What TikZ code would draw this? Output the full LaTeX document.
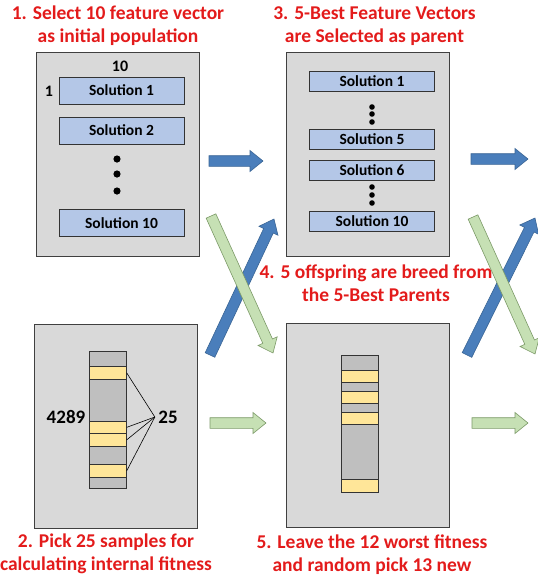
\documentclass[tikz,border=0pt]{standalone}
\usepackage{fontspec}
\setmainfont{Carlito}
\usetikzlibrary{calc}
\definecolor{boxgray}{HTML}{D9D9D9}
\definecolor{solblue}{HTML}{B4C7E7}
\definecolor{bargray}{HTML}{BFBFBF}
\definecolor{bandyellow}{HTML}{FFE699}
\definecolor{stepred}{HTML}{E31B1B}
\definecolor{flowblue}{HTML}{4A7EBB}
\definecolor{flowblueedge}{HTML}{3A6595}
\definecolor{flowgreen}{HTML}{C6E0B4}
\definecolor{flowgreenedge}{HTML}{7C9A68}
\begin{document}
\begin{tikzpicture}[x=1pt,y=-1pt,
	panel/.style={draw=black!75,fill=boxgray,minimum width=163pt,minimum height=204pt,inner sep=0pt,line width=0.9pt},
	solution/.style={draw=black!80,fill=solblue,minimum width=125pt,inner sep=0pt,font=\fontsize{15.5}{18}\selectfont\bfseries,line width=0.7pt},
	steptitle/.style={text=stepred,font=\fontsize{19.5}{23}\selectfont\bfseries,align=center},
	count/.style={font=\fontsize{16}{19}\selectfont\bfseries},
	bar/.style={draw=black!80,fill=bargray,line width=0.7pt,minimum width=37pt,inner sep=0pt,anchor=north west},
	band/.style={draw=black!80,fill=bandyellow,line width=0.7pt,minimum width=37pt,inner sep=0pt,anchor=north west},
	blockarrow/.style={draw=#1edge,fill=#1,line width=0.6pt,to path={let \p1=(\tikztostart),\p2=(\tikztotarget),\n1={atan2(\y2-\y1,\x2-\x1)},\n2={veclen(\x2-\x1,\y2-\y1)} in [shift={(\p1)},rotate=\n1] (0,5.3) -- (\n2-13,5.3) -- (\n2-13,10.5) -- (\n2,0) -- (\n2-13,-10.5) -- (\n2-13,-5.3) -- (0,-5.3) -- cycle}}]
	\useasboundingbox (0,0) rectangle (538,582);
	% panels
	\node[panel] (pop) at (117.5,154) {};
	\node[panel] (par) at (367.5,154) {};
	\node[panel] (smp) at (115.5,426) {};
	\node[panel] (off) at (367.5,425.5) {};
	% initial population
	\node[count] (popsize) at (120,66) {10};
	\node[count] (popidx) at (49,91) {1};
	\node[solution,minimum height=27pt] (pop1) at (121.5,90.5) {Solution 1};
	\node[solution,minimum height=27pt] (pop2) at (121.5,130.5) {Solution 2};
	\node[solution,minimum height=27pt] (pop10) at (121.5,223) {Solution 10};
	\foreach \y in {159,174,191}
		\fill (117,\y) circle (3.6);
	% parents
	\node[solution,minimum height=20pt] (par1) at (372,81) {Solution 1};
	\node[solution,minimum height=20pt] (par5) at (372,139) {Solution 5};
	\node[solution,minimum height=20pt] (par6) at (372,170) {Solution 6};
	\node[solution,minimum height=20pt] (par10) at (372,221.5) {Solution 10};
	\foreach \y in {107,114,122,187,195,203}
		\fill (372,\y) circle (2.8);
	% samples
	\node[bar,minimum height=137pt] (smpbar) at (89,351) {};
	\foreach \t/\b [count=\i] in {366/379,421/433,433/446,464/477}
		\node[band,minimum height=\b-\t] (smpband\i) at (89,\t) {};
	\node[font=\fontsize{19}{23}\selectfont\bfseries] (total) at (66,417) {4289};
	\node[font=\fontsize{19}{23}\selectfont\bfseries] (pick) at (168,417) {25};
	\foreach \i in {1,...,4}
		\draw[line width=0.6pt] (smpband\i.east) -- (pick.west);
	% offspring
	\node[bar,minimum height=137pt] (offbar) at (341,355) {};
	\foreach \t/\b [count=\i] in {370/382,391/403,412/424,479/492}
		\node[band,minimum height=\b-\t] (offband\i) at (341,\t) {};
	% titles
	\node[steptitle] (title1) at (118,26) {1. Select 10 feature vector\\as initial population};
	\node[steptitle] (title3) at (374.5,26) {3. 5-Best Feature Vectors\\are Selected as parent};
	\node[steptitle] (title4) at (376,283) {4. 5 offspring are breed from\\the 5-Best Parents};
	\node[steptitle] (title2) at (106,554) {2. Pick 25 samples for\\calculating internal fitness};
	\node[steptitle] (title5) at (372,555) {5. Leave the 12 worst fitness\\and random pick 13 new};
	% arrow ends
	\coordinate (selA) at (209,161);
	\coordinate (selB) at (263,161);
	\coordinate (selC) at (471,159);
	\coordinate (selD) at (528,159);
	\coordinate (fitA) at (210,423);
	\coordinate (fitB) at (266,423);
	\coordinate (fitC) at (472,423);
	\coordinate (fitD) at (528,423);
	\coordinate (upA) at (210,355);
	\coordinate (upB) at (274,219);
	\coordinate (upC) at (467,355);
	\coordinate (upD) at (535,218);
	\coordinate (downA) at (211,216);
	\coordinate (downB) at (273,353);
	\coordinate (downC) at (473,217);
	\coordinate (downD) at (535,354);
	% arrows
	\draw[blockarrow=flowblue] (selA) to (selB);
	\draw[blockarrow=flowblue] (selC) to (selD);
	\draw[blockarrow=flowgreen] (fitA) to (fitB);
	\draw[blockarrow=flowgreen] (fitC) to (fitD);
	\draw[blockarrow=flowblue] (upA) to (upB);
	\draw[blockarrow=flowblue] (upC) to (upD);
	\draw[blockarrow=flowgreen] (downA) to (downB);
	\draw[blockarrow=flowgreen] (downC) to (downD);
\end{tikzpicture}
\end{document}
